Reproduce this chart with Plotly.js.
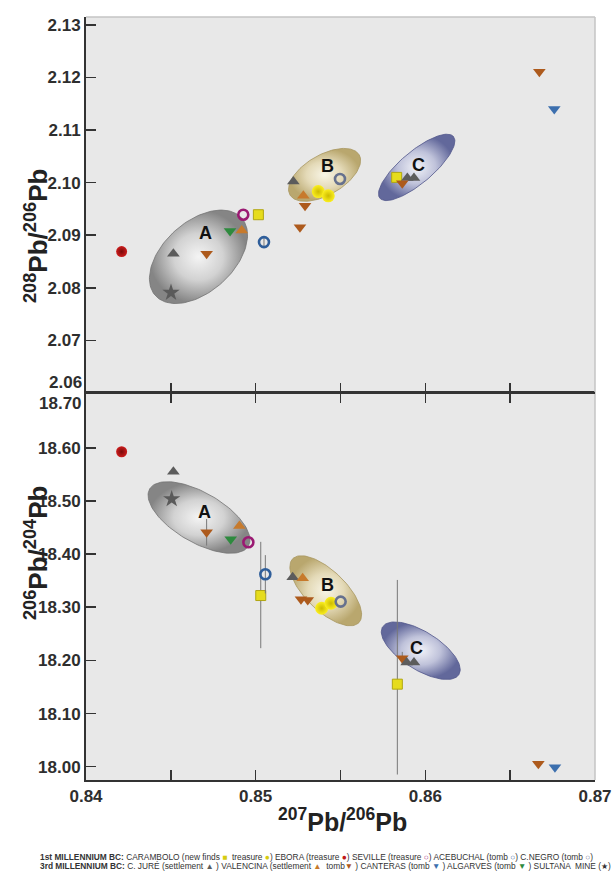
<!DOCTYPE html>
<html>
<head>
<meta charset="utf-8">
<script src="https://cdn.plot.ly/plotly-3.0.1.min.js"></script>
<style>html,body{margin:0;padding:0;background:#fff;}#chart{width:612px;height:880px;}</style>
</head>
<body>
<div id="chart"></div>
<script>
// ---------- DATA ----------
// x = 207Pb/206Pb ; top panel y = 208Pb/206Pb ; bottom panel y = 206Pb/204Pb
const xTickStart = 0.84, xTickStep = 0.01, xMinorStep = 0.005;
const yTopTickVals = [2.07, 2.08, 2.09, 2.10, 2.11, 2.12, 2.13];
const yBotTickVals = [18.00, 18.10, 18.20, 18.30, 18.40, 18.50, 18.60];
const joinTickLabels = ['2.06', '18.70'];

// CARAMBOLO new finds (square)
const newFindsTopX = [0.85016, 0.85831];
const newFindsTopY = [2.0939, 2.1010];
const newFindsTopErr = [0.0009, 0];
const newFindsBotX = [0.8503, 0.85835];
const newFindsBotY = [18.322, 18.1553];
const newFindsBotErrPlus = [0.101, 0.196];
const newFindsBotErrMinus = [0.099, 0.170];
// CARAMBOLO treasure (spheres)
const treasureTopX = [0.85369, 0.85428];
const treasureTopY = [2.0983, 2.0975];
const treasureBotX = [0.85389, 0.85444];
const treasureBotY = [18.2981, 18.3075];
// EBORA treasure
const eboraTopX = [0.8421];
const eboraTopY = [2.0869];
const eboraBotX = [0.8421];
const eboraBotY = [18.5925];
// SEVILLE treasure
const sevilleTopX = [0.84927];
const sevilleTopY = [2.0939];
const sevilleBotX = [0.84957];
const sevilleBotY = [18.4222];
// ACEBUCHAL tomb
const acebuchalTopX = [0.85049];
const acebuchalTopY = [2.0887];
const acebuchalTopErr = [0.0008];
const acebuchalBotX = [0.85057];
const acebuchalBotY = [18.362];
const acebuchalBotErr = [0.036];
// C.NEGRO tomb
const cnegroTopX = [0.85497];
const cnegroTopY = [2.1007];
const cnegroBotX = [0.85501];
const cnegroBotY = [18.3106];
// C. JURE settlement
const cjureTopX = [0.84515, 0.85222, 0.85894, 0.85933];
const cjureTopY = [2.0865, 2.1002, 2.1009, 2.1009];
const cjureBotX = [0.84515, 0.85218, 0.8589, 0.85933];
const cjureBotY = [18.555, 18.3564, 18.196, 18.196];
// VALENCINA settlement
const valSettTopX = [0.84918, 0.85281];
const valSettTopY = [2.0909, 2.0975];
const valSettBotX = [0.84904, 0.85277];
const valSettBotY = [18.4528, 18.3545];
// VALENCINA tomb
const valTombTopX = [0.84711, 0.85291, 0.85261, 0.85864, 0.86672];
const valTombTopY = [2.0865, 2.0956, 2.0915, 2.0999, 2.1211];
const valTombBotX = [0.84711, 0.85267, 0.85307, 0.85864, 0.86666];
const valTombBotY = [18.441, 18.315, 18.3137, 18.204, 18.0054];
const valTombBotErr = [0.025, 0, 0, 0.012, 0];
// CANTERAS tomb
const canterasTopX = [0.8676];
const canterasTopY = [2.1140];
const canterasBotX = [0.86764];
const canterasBotY = [17.9992];
// ALGARVES tomb
const algarvesTopX = [0.84849];
const algarvesTopY = [2.0908];
const algarvesBotX = [0.84853];
const algarvesBotY = [18.4278];
// SULTANA mine
const sultanaTopX = [0.84501];
const sultanaTopY = [2.0791];
const sultanaBotX = [0.84505];
const sultanaBotY = [18.5036];

// Groups A, B, C (ellipse centres, data units)
const groupLabels = ['A', 'B', 'C'];
const groupTopCx = [0.84663, 0.85406, 0.85949];
const groupTopCy = [2.0859, 2.10148, 2.1029];
const groupBotCx = [0.84666, 0.85413, 0.85973];
const groupBotCy = [18.4688, 18.331, 18.2182];
const labelTopX = [0.84705, 0.85422, 0.85958];
const labelTopY = [2.0904, 2.1031, 2.1034];
const labelBotX = [0.84701, 0.85422, 0.85949];
const labelBotY = [18.4797, 18.342, 18.223];

// ---------- LAYOUT GEOMETRY / STYLE ----------
const W = 612, H = 880, mL = 86, mR = 17, mT = 17, mB = 100;
const plotW = W - mL - mR, plotH = H - mT - mB;
const split = 0.5072;
const xRange = [0.84, 0.87];
const yTopRange = [2.06, 2.1315];
const yBotRange = [17.975, 18.703];
const kx = plotW / (xRange[1] - xRange[0]);
const kyTop = plotH * (1 - split) / (yTopRange[1] - yTopRange[0]);
const kyBot = plotH * split / (yBotRange[1] - yBotRange[0]);

// ellipse shape sizes in pixels (semi-axes) and tilt in degrees
const ellTopA = [58, 40, 48], ellTopB = [35, 20, 16], ellTopAng = [42, 30, 40];
const ellBotA = [57, 46, 45], ellBotB = [25, 20, 19], ellBotAng = [-30, -44, -32];
const ellScales = [
  [[0, '#f4f4f4'], [0.5, '#d2d2d2'], [1, '#858585']],
  [[0, '#f8f5e6'], [0.5, '#e4dab8'], [1, '#b9a76e']],
  [[0, '#f1f2f8'], [0.5, '#bfc2da'], [1, '#62689b']]
];
const ellLines = ['#747474', '#a8975f', '#50568a'];

function ellipse(cx, cy, a, b, deg, ky) {
  const th = deg * Math.PI / 180, xs = [], ys = [];
  for (let i = 0; i <= 120; i++) {
    const t = i / 120 * 2 * Math.PI;
    const ex = a * Math.cos(t), ey = b * Math.sin(t);
    xs.push(cx + (ex * Math.cos(th) - ey * Math.sin(th)) / kx);
    ys.push(cy + (ex * Math.sin(th) + ey * Math.cos(th)) / ky);
  }
  return {x: xs, y: ys};
}

const traces = [];
for (let i = 0; i < 3; i++) {
  const et = ellipse(groupTopCx[i], groupTopCy[i], ellTopA[i], ellTopB[i], ellTopAng[i], kyTop);
  traces.push({x: et.x, y: et.y, xaxis: 'x2', yaxis: 'y2', mode: 'lines', fill: 'toself',
    fillgradient: {type: 'radial', colorscale: ellScales[i]},
    line: {color: ellLines[i], width: 0.8}, hoverinfo: 'skip', showlegend: false});
  const eb = ellipse(groupBotCx[i], groupBotCy[i], ellBotA[i], ellBotB[i], ellBotAng[i], kyBot);
  traces.push({x: eb.x, y: eb.y, xaxis: 'x', yaxis: 'y', mode: 'lines', fill: 'toself',
    fillgradient: {type: 'radial', colorscale: ellScales[i]},
    line: {color: ellLines[i], width: 0.8}, hoverinfo: 'skip', showlegend: false});
}

const errStyle = {color: '#777', thickness: 1, width: 0};
function pts(x, y, panel, marker, extra) {
  const t = Object.assign({x: x, y: y, mode: 'markers', type: 'scatter', marker: marker, showlegend: false},
    panel === 'top' ? {xaxis: 'x2', yaxis: 'y2'} : {xaxis: 'x', yaxis: 'y'});
  return Object.assign(t, extra || {});
}
const mNew = {symbol: 'square', size: 10, color: '#e6dc1c', line: {color: '#b0a612', width: 1}};
const mTreas = {symbol: 'circle', size: 13, color: '#fbef20', gradient: {type: 'radial', color: '#cdbb00'}, line: {width: 0}};
const mEbora = {symbol: 'circle', size: 11, color: '#cc1c1c', gradient: {type: 'radial', color: '#7a0a0a'}, line: {width: 0}};
const mSev = {symbol: 'circle-open', size: 10, color: '#9a1a72', line: {width: 2.6}};
const mAce = {symbol: 'circle-open', size: 10, color: '#2f5e9a', line: {width: 2.6}};
const mCneg = {symbol: 'circle-open', size: 10, color: '#66718e', line: {width: 2.6}};
const mCjure = {symbol: 'triangle-up', size: 11, color: '#5c5c5c', line: {width: 0}};
const mValS = {symbol: 'triangle-up', size: 11, color: '#c77a2c', line: {width: 0}};
const mValT = {symbol: 'triangle-down', size: 11, color: '#ad5a1c', line: {width: 0}};
const mCant = {symbol: 'triangle-down', size: 11, color: '#3c6fae', line: {width: 0}};
const mAlg = {symbol: 'triangle-down', size: 11, color: '#2e8a3e', line: {width: 0}};
const mSult = {symbol: 'star', size: 13, color: '#5a5a5a', line: {width: 0}};

traces.push(
  pts(newFindsTopX, newFindsTopY, 'top', mNew, {error_y: Object.assign({type: 'data', array: newFindsTopErr}, errStyle)}),
  pts(acebuchalTopX, acebuchalTopY, 'top', mAce, {error_y: Object.assign({type: 'data', array: acebuchalTopErr}, errStyle)}),
  pts(treasureTopX, treasureTopY, 'top', mTreas),
  pts(eboraTopX, eboraTopY, 'top', mEbora),
  pts(sevilleTopX, sevilleTopY, 'top', mSev),
  pts(cnegroTopX, cnegroTopY, 'top', mCneg),
  pts(cjureTopX, cjureTopY, 'top', mCjure),
  pts(valSettTopX, valSettTopY, 'top', mValS),
  pts(valTombTopX, valTombTopY, 'top', mValT),
  pts(canterasTopX, canterasTopY, 'top', mCant),
  pts(algarvesTopX, algarvesTopY, 'top', mAlg),
  pts(sultanaTopX, sultanaTopY, 'top', mSult),

  pts(newFindsBotX, newFindsBotY, 'bot', mNew, {error_y: Object.assign({type: 'data', symmetric: false, array: newFindsBotErrPlus, arrayminus: newFindsBotErrMinus}, errStyle)}),
  pts(acebuchalBotX, acebuchalBotY, 'bot', mAce, {error_y: Object.assign({type: 'data', array: acebuchalBotErr}, errStyle)}),
  pts(valTombBotX, valTombBotY, 'bot', mValT, {error_y: Object.assign({type: 'data', array: valTombBotErr}, errStyle)}),
  pts(treasureBotX, treasureBotY, 'bot', mTreas),
  pts(eboraBotX, eboraBotY, 'bot', mEbora),
  pts(sevilleBotX, sevilleBotY, 'bot', mSev),
  pts(cnegroBotX, cnegroBotY, 'bot', mCneg),
  pts(cjureBotX, cjureBotY, 'bot', mCjure),
  pts(valSettBotX, valSettBotY, 'bot', mValS),
  pts(canterasBotX, canterasBotY, 'bot', mCant),
  pts(algarvesBotX, algarvesBotY, 'bot', mAlg),
  pts(sultanaBotX, sultanaBotY, 'bot', mSult)
);

const FONT = 'Liberation Sans, Arial, sans-serif';
const tickFont = {family: FONT, size: 17, color: '#2e2e2e', weight: 'bold'};
const axisLine = '#333';

const annotations = [];
for (let i = 0; i < 3; i++) {
  annotations.push({x: labelTopX[i], y: labelTopY[i], xref: 'x2', yref: 'y2', text: groupLabels[i], showarrow: false,
    font: {family: FONT, size: 18, color: '#111', weight: 'bold'}});
  annotations.push({x: labelBotX[i], y: labelBotY[i], xref: 'x', yref: 'y', text: groupLabels[i], showarrow: false,
    font: {family: FONT, size: 18, color: '#111', weight: 'bold'}});
}
const pxToPaperY = py => (H - mB - py) / plotH;
const pxToPaperX = px => (px - mL) / plotW;
const keyFont = {family: FONT, size: 8.35, color: '#333'};
annotations.push(
  {x: pxToPaperX(83), y: pxToPaperY(393), xref: 'paper', yref: 'paper', xanchor: 'right', yanchor: 'bottom',
   text: joinTickLabels[0], showarrow: false, font: tickFont, borderpad: 0},
  {x: pxToPaperX(83), y: pxToPaperY(393), xref: 'paper', yref: 'paper', xanchor: 'right', yanchor: 'top',
   text: joinTickLabels[1], showarrow: false, font: tickFont, borderpad: 0},
  {x: pxToPaperX(36), y: pxToPaperY(236), xref: 'paper', yref: 'paper', xanchor: 'center', yanchor: 'middle',
   textangle: -90, text: '<sup>208</sup>Pb/<sup>206</sup>Pb', showarrow: false,
   font: {family: FONT, size: 26, color: '#222', weight: 'bold'}},
  {x: pxToPaperX(36), y: pxToPaperY(553), xref: 'paper', yref: 'paper', xanchor: 'center', yanchor: 'middle',
   textangle: -90, text: '<sup>206</sup>Pb/<sup>204</sup>Pb', showarrow: false,
   font: {family: FONT, size: 26, color: '#222', weight: 'bold'}},
  {x: pxToPaperX(342), y: pxToPaperY(820), xref: 'paper', yref: 'paper', xanchor: 'center', yanchor: 'middle',
   text: '<sup>207</sup>Pb/<sup>206</sup>Pb', showarrow: false,
   font: {family: FONT, size: 25, color: '#222', weight: 'bold'}},
  {x: pxToPaperX(40), y: pxToPaperY(857), xref: 'paper', yref: 'paper', xanchor: 'left', yanchor: 'middle', align: 'left',
   showarrow: false, font: keyFont, borderpad: 0, borderwidth: 0,
   text: '<b>1st MILLENNIUM BC:</b> CARAMBOLO (new finds <span style="color:#d6cc10">■</span>  treasure <span style="color:#d6cc10">●</span>) EBORA (treasure <span style="color:#c01818">●</span>) SEVILLE (treasure <span style="color:#9a1a72">○</span>) ACEBUCHAL (tomb <span style="color:#2f5e9a">○</span>) C.NEGRO (tomb <span style="color:#66718e">○</span>)'},
  {x: pxToPaperX(40), y: pxToPaperY(866), xref: 'paper', yref: 'paper', xanchor: 'left', yanchor: 'middle', align: 'left',
   showarrow: false, font: keyFont, borderpad: 0, borderwidth: 0,
   text: '<b>3rd MILLENNIUM BC:</b> C. JURÉ (settlement <span style="color:#5c5c5c">▲</span> ) VALENCINA (settlement <span style="color:#c77a2c">▲</span>  tomb<span style="color:#ad5a1c">▼</span> ) CANTERAS (tomb <span style="color:#3c6fae">▼</span> ) ALGARVES (tomb <span style="color:#2e8a3e">▼</span> ) SULTANA  MINE (<span style="color:#333">★</span>)'}
);

const minorX = {dtick: xMinorStep, tick0: xTickStart, ticks: 'inside', ticklen: 10, tickwidth: 1.5, tickcolor: axisLine, showgrid: false};
const layout = {
  width: W, height: H,
  margin: {l: mL, r: mR, t: mT, b: mB, pad: 0},
  paper_bgcolor: '#ffffff', plot_bgcolor: '#e8e8e8',
  showlegend: false,
  xaxis: {domain: [0, 1], anchor: 'y', range: xRange, tickmode: 'linear', tick0: xTickStart, dtick: xTickStep, tickformat: '.2f',
    ticks: 'inside', ticklen: 10, tickwidth: 1.5, tickcolor: axisLine, showline: true, linecolor: axisLine, linewidth: 2,
    mirror: 'ticks', showgrid: false, zeroline: false, tickfont: tickFont, minor: minorX},
  xaxis2: {domain: [0, 1], anchor: 'y2', matches: 'x', range: xRange, tickmode: 'linear', tick0: xTickStart, dtick: xTickStep,
    showticklabels: false, ticks: 'inside', ticklen: 10, tickwidth: 1.5, tickcolor: axisLine, showline: false,
    showgrid: false, zeroline: false, minor: minorX},
  yaxis: {domain: [0, split], anchor: 'x', range: yBotRange, tickmode: 'array', tickvals: yBotTickVals, tickformat: '.2f',
    ticks: 'inside', ticklen: 10, tickwidth: 1.5, tickcolor: axisLine, showline: true, linecolor: axisLine, linewidth: 2,
    showgrid: false, zeroline: false, tickfont: tickFont},
  yaxis2: {domain: [split, 1], anchor: 'x2', range: yTopRange, tickmode: 'array', tickvals: yTopTickVals, tickformat: '.2f',
    ticks: 'inside', ticklen: 10, tickwidth: 1.5, tickcolor: axisLine, showline: true, linecolor: axisLine, linewidth: 2,
    showgrid: false, zeroline: false, tickfont: tickFont},
  shapes: [
    {type: 'line', xref: 'paper', yref: 'paper', x0: 0, x1: 1, y0: 1, y1: 1, line: {color: '#c4c4c4', width: 1.5}},
    {type: 'line', xref: 'paper', yref: 'paper', x0: 1, x1: 1, y0: 0, y1: 1, line: {color: '#c4c4c4', width: 1.5}},
    {type: 'line', xref: 'paper', yref: 'paper', x0: 0, x1: 1, y0: split, y1: split, layer: 'above', line: {color: axisLine, width: 2}}
  ],
  annotations: annotations
};

Plotly.newPlot('chart', traces, layout, {staticPlot: true, displayModeBar: false});
</script>
</body>
</html>
